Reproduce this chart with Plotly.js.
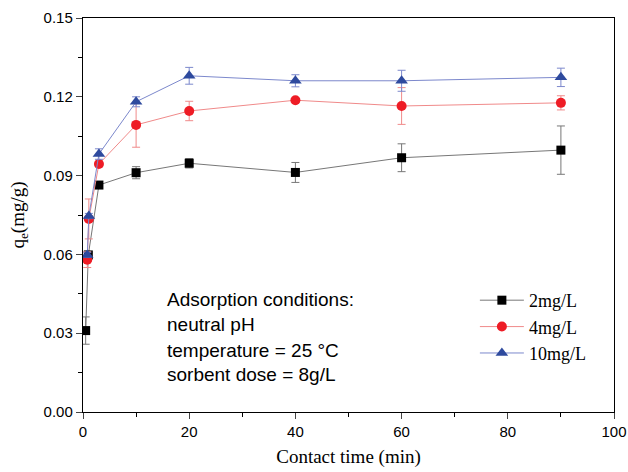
<!DOCTYPE html>
<html>
<head>
<meta charset="utf-8">
<script src="https://cdn.plot.ly/plotly-3.0.1.min.js"></script>
<style>html,body{margin:0;padding:0;background:#fff;}#chart{width:628px;height:472px;}</style>
</head>
<body>
<div id="chart"></div>
<script>
// Contact time (min)
const timeBlack = [0.5, 1, 3, 10, 20, 40, 60, 90];
const timeRB    = [0.8, 1.1, 3, 10, 20, 40, 60, 90];
// qe (mg/g)
const q2  = [0.0310, 0.0598, 0.0864, 0.0911, 0.0947, 0.0912, 0.0968, 0.0997];
const e2  = [0.0052, 0.0010, 0.0008, 0.0023, 0.0018, 0.0038, 0.0053, 0.0092];
const q4  = [0.0580, 0.0735, 0.0944, 0.1093, 0.1146, 0.1187, 0.1165, 0.1177];
const e4  = [0.0030, 0.0076, 0.0010, 0.0085, 0.0037, 0.0005, 0.0070, 0.0027];
const q10 = [0.0598, 0.0746, 0.0982, 0.1181, 0.1280, 0.1261, 0.1261, 0.1274];
const e10 = [0.0010, 0.0010, 0.0020, 0.0019, 0.0032, 0.0023, 0.0040, 0.0035];
const seriesNames = ['2mg/L', '4mg/L', '10mg/L'];
const noteLines = ['Adsorption conditions:', 'neutral pH', 'temperature = 25 \u00B0C', 'sorbent dose = 8g/L'];
const noteY = [0.0430, 0.0332, 0.0236, 0.0141];

const traces = [
  {x: timeBlack, y: q2, name: seriesNames[0], mode: 'lines+markers', type: 'scatter',
   line: {color: '#777777', width: 1},
   marker: {symbol: 'square', size: 9, color: '#000000'},
   error_y: {type: 'data', array: e2, visible: true, color: '#777777', thickness: 1, width: 4}},
  {x: timeRB, y: q4, name: seriesNames[1], mode: 'lines+markers', type: 'scatter',
   line: {color: '#f08a8a', width: 1},
   marker: {symbol: 'circle', size: 10, color: '#ee1c25'},
   error_y: {type: 'data', array: e4, visible: true, color: '#f08a8a', thickness: 1, width: 4}},
  {x: timeRB, y: q10, name: seriesNames[2], mode: 'lines+markers', type: 'scatter',
   line: {color: '#7c88cc', width: 1},
   marker: {symbol: 'triangle-up', size: 11, color: '#2e4a9e'},
   error_y: {type: 'data', array: e10, visible: true, color: '#7c88cc', thickness: 1, width: 4}}
];

const annotations = noteLines.map((t, i) => ({
  x: 15.5, y: noteY[i], xref: 'x', yref: 'y', xanchor: 'left', yanchor: 'middle',
  text: t, showarrow: false, align: 'left',
  font: {family: 'Liberation Sans, Arial, sans-serif', size: 19, color: '#000'}
}));

const layout = {
  width: 628, height: 472,
  margin: {l: 83, r: 14, t: 18, b: 60},
  paper_bgcolor: '#ffffff', plot_bgcolor: '#ffffff',
  showlegend: true,
  legend: {x: 0.738, y: 0.33, xanchor: 'left', yanchor: 'top', bgcolor: 'rgba(0,0,0,0)',
           itemwidth: 44,
           font: {family: 'Liberation Serif, Times New Roman, serif', size: 18, color: '#000'},
           tracegroupgap: 0},
  xaxis: {
    range: [0, 100], tickvals: [0, 20, 40, 60, 80, 100], ticks: 'outside', ticklen: 6, tickwidth: 1,
    minor: {dtick: 10, ticks: 'outside', ticklen: 4, tickwidth: 1, tickcolor: '#000'},
    showline: true, linecolor: '#000', linewidth: 1.2, mirror: true, showgrid: false, zeroline: false,
    tickfont: {family: 'Liberation Sans, Arial, sans-serif', size: 15, color: '#000'},
    title: {text: 'Contact time (min)', standoff: 10,
            font: {family: 'Liberation Serif, Times New Roman, serif', size: 19, color: '#000'}}
  },
  yaxis: {
    range: [0, 0.15], tickvals: [0, 0.03, 0.06, 0.09, 0.12, 0.15], tickformat: '.2f',
    ticks: 'outside', ticklen: 6, tickwidth: 1,
    minor: {dtick: 0.015, ticks: 'outside', ticklen: 4, tickwidth: 1, tickcolor: '#000'},
    showline: true, linecolor: '#000', linewidth: 1.2, mirror: true, showgrid: false, zeroline: false,
    tickfont: {family: 'Liberation Sans, Arial, sans-serif', size: 15, color: '#000'},
    title: {text: 'q<sub>e</sub>(mg/g)', standoff: 14,
            font: {family: 'Liberation Serif, Times New Roman, serif', size: 19, color: '#000'}}
  },
  annotations: annotations
};

Plotly.newPlot('chart', traces, layout, {displayModeBar: false, staticPlot: true});
</script>
</body>
</html>
